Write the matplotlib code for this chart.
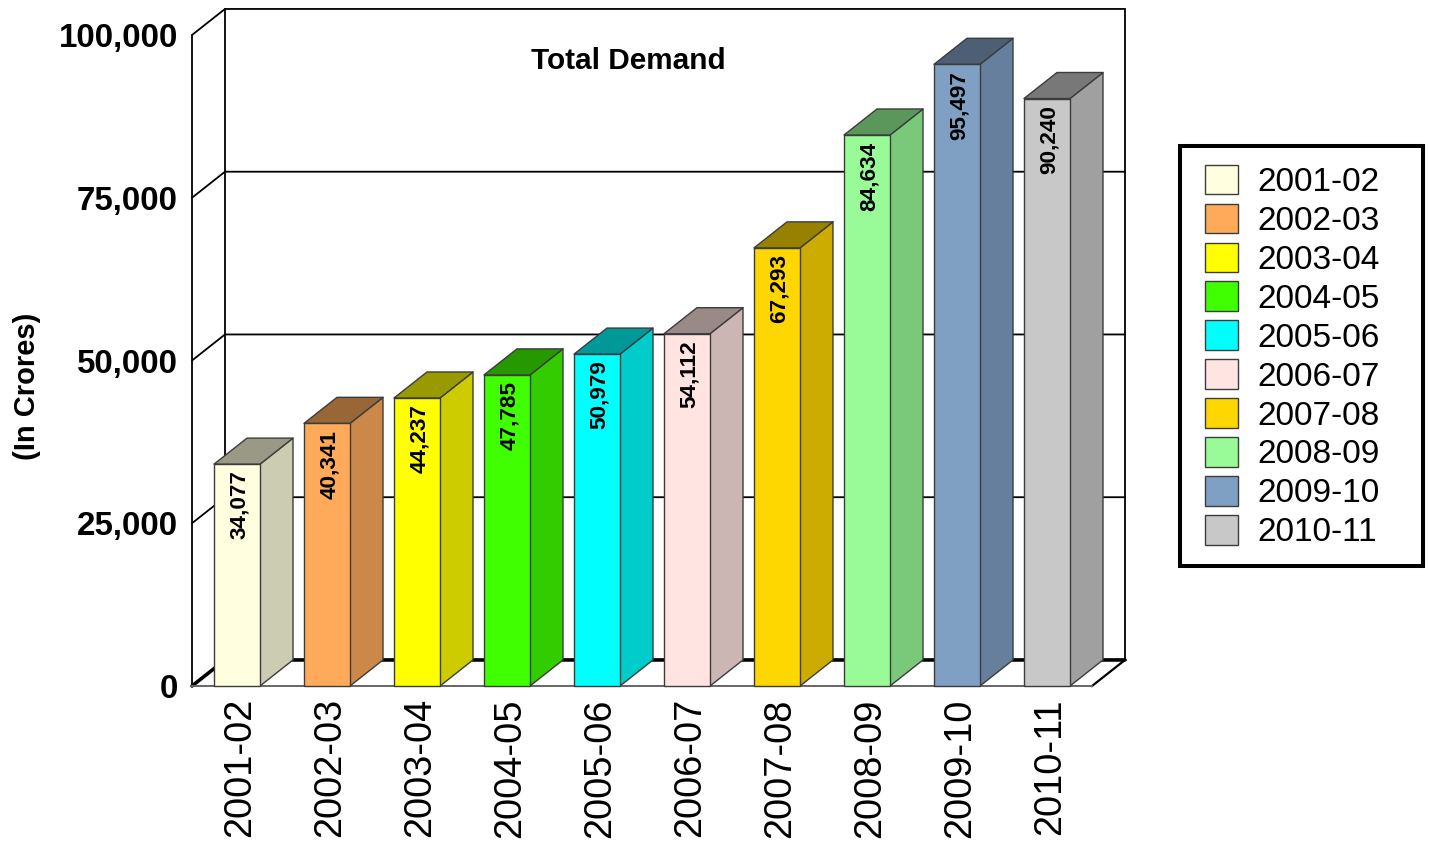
import matplotlib
matplotlib.use("Agg")
import matplotlib.pyplot as plt
from matplotlib.patches import Patch, Rectangle
from matplotlib.colors import to_rgb
from matplotlib.transforms import ScaledTranslation

years = ["2001-02", "2002-03", "2003-04", "2004-05", "2005-06",
         "2006-07", "2007-08", "2008-09", "2009-10", "2010-11"]
demand = [34077, 40341, 44237, 47785, 50979, 54112, 67293, 84634, 95497, 90240]
colors = ["#FFFFE0", "#FFAA5A", "#FFFF00", "#40FF00", "#00FFFF",
          "#FFE4E1", "#FFD700", "#98FB98", "#7F9FC3", "#C8C8C8"]
yticks = [0, 25000, 50000, 75000, 100000]
title = "Total Demand"
ylabel = "(In Crores)"

plt.rcParams["font.family"] = ["Liberation Sans", "DejaVu Sans"]
W, H = 1429, 843
fig = plt.figure(figsize=(W / 100, H / 100), dpi=100, facecolor="white")
ax = fig.add_axes([192 / W, (H - 686) / H, 900 / W, 651 / H])
ax.set_xlim(0, 10)
ax.set_ylim(0, 100000)
for s in ax.spines.values():
    s.set_visible(False)
ax.patch.set_alpha(0)

# depth of the 3D projection, in data units
dx, dy = 33 / 90, 4000
bw = 46 / 90
nc = len(years)
top = yticks[-1]


def shade(c, f):
    return tuple(v * f for v in to_rgb(c))


# walls and gridlines
kw = dict(color="black", lw=1.3, clip_on=False, zorder=1, solid_capstyle="round")
for v in yticks[1:]:
    ax.plot([0, dx, nc + dx], [v, v + dy, v + dy], **kw)
ax.plot([0, 0], [0, top], **kw)
ax.plot([dx, dx], [dy, top + dy], **kw)
ax.plot([nc + dx, nc + dx], [dy, top + dy], **kw)
# floor
thick = dict(color="black", lw=2.6, clip_on=False, zorder=1, solid_capstyle="round")
ax.plot([0, dx, nc + dx], [0, dy, dy], **thick)
ax.plot([nc + dx, nc], [dy, 0], color="black", lw=1.6, clip_on=False, zorder=1)
ax.plot([0, nc], [0, 0], color="#666666", lw=1.4, clip_on=False, zorder=1)

# bars
edge = "#3c3c3c"
for i, (val, c) in enumerate(zip(demand, colors)):
    l, r = i + 0.5 - bw / 2, i + 0.5 + bw / 2
    pk = dict(edgecolor=edge, lw=1.0, clip_on=False, zorder=3, joinstyle="round")
    ax.fill([r, r + dx, r + dx, r], [0, dy, val + dy, val], facecolor=shade(c, 0.8), **pk)
    ax.fill([l, l + dx, r + dx, r], [val, val + dy, val + dy, val], facecolor=shade(c, 0.6), **pk)
    ax.fill([l, r, r, l], [0, 0, val, val], facecolor=c, **pk)
    ax.annotate(f"{val:,}", (i + 0.5, val), xytext=(1.6, -4.6), textcoords="offset points",
                rotation=90, ha="center", va="top", fontsize=16.2, fontweight="bold",
                color="black", zorder=4)

# axes text
ax.set_xticks([i + 0.5 for i in range(nc)])
ax.set_xticklabels(years, rotation=90, fontsize=27.4)
ax.set_yticks(yticks)
ax.set_yticklabels([f"{v:,}" for v in yticks], fontsize=23.9, fontweight="bold")
ax.tick_params(axis="x", length=0, pad=8.8)
ax.tick_params(axis="y", length=0, pad=10)
shift = ScaledTranslation(3.5 / 100, 0, fig.dpi_scale_trans)
for lab in ax.get_xticklabels():
    lab.set_transform(lab.get_transform() + shift)
ax.set_ylabel(ylabel, fontsize=21, fontweight="bold")
ax.yaxis.set_label_coords(-151 / 900, 300 / 651)
ax.text(436 / 900, 625 / 651, title, transform=ax.transAxes, ha="center", va="center",
        fontsize=21.4, fontweight="bold")

# legend
handles = [Patch(facecolor=c, edgecolor=edge, lw=1.0, label=y) for y, c in zip(years, colors)]
fig.add_artist(Rectangle((1179.5 / W, (H - 566) / H), 243.5 / W, 419.7 / H,
                         transform=fig.transFigure, facecolor="white", edgecolor="black",
                         lw=2.9, joinstyle="miter"))
leg = fig.legend(handles=handles, loc="center left", fontsize=24.0,
                 bbox_to_anchor=(1205 / W, (H - 356.5) / H),
                 bbox_transform=fig.transFigure, frameon=False,
                 handlelength=0.98, handleheight=0.98,
                 handletextpad=0.59, labelspacing=0.175, borderpad=0, borderaxespad=0)

fig.savefig("out.png", dpi=100)
